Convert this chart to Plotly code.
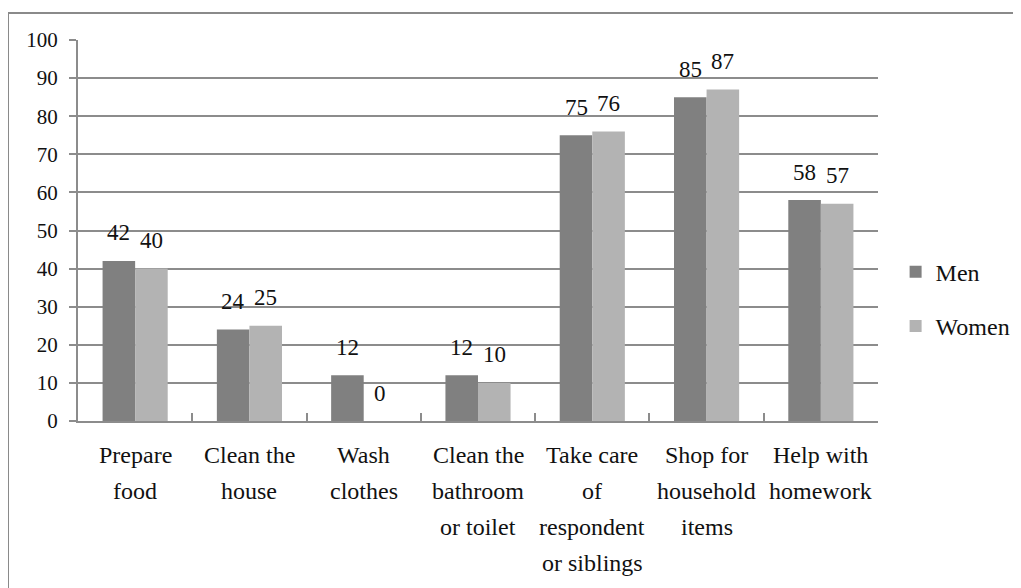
import plotly.graph_objects as go

categories = ["Prepare<br>food", "Clean the<br>house", "Wash<br>clothes",
              "Clean the<br>bathroom<br>or toilet",
              "Take care<br>of<br>respondent<br>or siblings",
              "Shop for<br>household<br>items", "Help with<br>homework"]
men = [42, 24, 12, 12, 75, 85, 58]
women = [40, 25, 0, 10, 76, 87, 57]
series_names = ["Men", "Women"]
colors = ["#808080", "#b3b3b3"]
y_ticks = list(range(0, 101, 10))

W, H = 1021, 588
OFF = 8  # page body margin
ML, MT = 78 - OFF, 40 - OFF
plot_w, plot_h = 800, 381
MR = W - ML - plot_w
MB = H - MT - plot_h
bargap = 0.43
FONT = "Liberation Serif"
TXT = "#111111"
grid_col = "#8c8c8c"

fig = go.Figure()
for name, vals, col, grp in zip(series_names, [men, women], colors, ["a", "b"]):
    fig.add_trace(go.Bar(x=categories, y=vals, name=name, marker_color=col,
                         marker_line_width=0, legendgroup=grp))

bar_px = plot_w / len(categories) * (1 - bargap) / 2
annotations = []
for vals, sign in [(men, -1), (women, 1)]:
    for c, v in zip(categories, vals):
        annotations.append(dict(x=c, y=v, xref="x", yref="y", text=str(v),
                                showarrow=False, xshift=sign * bar_px / 2, yshift=28,
                                yanchor="middle",
                                font=dict(family=FONT, size=23, color=TXT)))
# category labels (line by line, for wider line spacing)
for c in categories:
    for i, line in enumerate(c.split("<br>")):
        annotations.append(dict(x=c, y=0, xref="x", yref="paper", text=line,
                                showarrow=False, yanchor="middle", yshift=-34 - 36 * i,
                                font=dict(family=FONT, size=24, color=TXT)))

fig.update_layout(
    width=W, height=H,
    margin=dict(l=ML, r=MR, t=MT, b=MB, autoexpand=False),
    paper_bgcolor="white", plot_bgcolor="white",
    barmode="group", bargap=bargap, bargroupgap=0,
    font=dict(family=FONT, size=21, color=TXT),
    legend=dict(x=1.022, xanchor="left", y=0.32, yanchor="middle",
                traceorder="grouped", tracegroupgap=20,
                font=dict(family=FONT, size=24, color=TXT)),
    annotations=annotations,
    shapes=[dict(type="rect", xref="paper", yref="paper",
                 x0=(8 - OFF - ML) / plot_w, x1=(1019 - OFF - ML) / plot_w,
                 y0=(plot_h + MT - 600) / plot_h, y1=(plot_h + MT - (13 - OFF)) / plot_h,
                 line=dict(color="#8a8a8a", width=2), layer="below")],
)
fig.update_xaxes(showticklabels=False, tickson="boundaries", ticks="inside",
                 ticklen=8, tickcolor=grid_col, tickwidth=2,
                 showline=True, linecolor=grid_col, linewidth=2,
                 showgrid=False)
fig.update_yaxes(range=[0, 100], tickvals=y_ticks, ticks="outside", ticklen=7,
                 tickcolor=grid_col, tickwidth=2, showgrid=True, gridcolor=grid_col,
                 gridwidth=2, showline=True, linecolor=grid_col, linewidth=2,
                 zeroline=False, ticklabelstandoff=7,
                 tickfont=dict(family=FONT, size=21, color=TXT))

fig.write_html("out.html")
